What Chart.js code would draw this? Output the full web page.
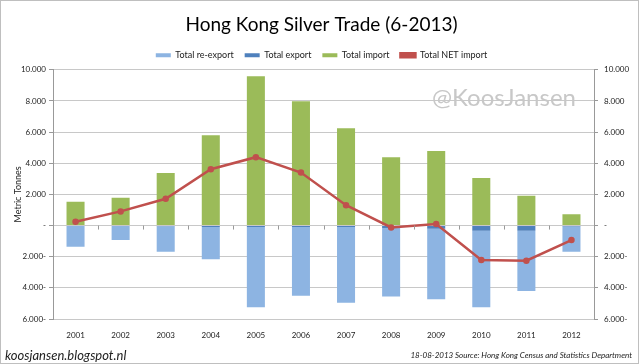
<!DOCTYPE html>
<html>
<head>
<meta charset="utf-8">
<script src="https://cdn.jsdelivr.net/npm/chart.js@4"></script>
<style>
  html, body { margin: 0; padding: 0; background: #fff; }
  #wrap { width: 640px; height: 364px; position: relative; }
</style>
</head>
<body>
<div id="wrap"><canvas id="silverChart" width="640" height="364"></canvas></div>
<script>
var years = ['2001', '2002', '2003', '2004', '2005', '2006', '2007', '2008', '2009', '2010', '2011', '2012'];
var reExport = [-1330, -900, -1630, -2070, -5140, -4400, -4850, -4410, -4530, -4910, -3870, -1620];
var totalExport = [-30, -30, -50, -100, -100, -100, -100, -150, -200, -330, -330, -60];
var totalImport = [1530, 1780, 3370, 5800, 9580, 7980, 6250, 4390, 4780, 3050, 1910, 720];
var netImport = [240, 910, 1720, 3620, 4390, 3400, 1310, -120, 100, -2210, -2260, -930];
var yTicks = [-6000, -4000, -2000, 0, 2000, 4000, 6000, 8000, 10000];

var FONT = 'Lato, "Open Sans", sans-serif';

// excel style accounting numbers: 2.000  /  -  /  2.000-
function fmtTick(v) {
  if (v === 0) return '-';
  var s = Math.abs(v).toString().replace(/\B(?=(\d{3})+(?!\d))/g, '.');
  return v < 0 ? s + '-' : s;
}

var extras = {
  id: 'extras',
  afterDraw: function (chart) {
    var c = chart.ctx;
    var xs = chart.scales.x, ys = chart.scales.y;
    var y0 = ys.getPixelForValue(0);
    c.save();
    // small category ticks on the zero line
    c.strokeStyle = '#999';
    c.lineWidth = 1;
    for (var i = 0; i < years.length - 1; i++) {
      var xm = Math.round((xs.getPixelForValue(i) + xs.getPixelForValue(i + 1)) / 2) + 0.5;
      c.beginPath();
      c.moveTo(xm, y0);
      c.lineTo(xm, y0 + 4);
      c.stroke();
    }
    // watermark
    c.fillStyle = '#c8c8c8';
    c.font = '24px ' + FONT;
    c.textAlign = 'left';
    c.textBaseline = 'middle';
    c.fillText('@KoosJansen', 432, 98);
    // footer
    c.fillStyle = '#222';
    c.font = 'italic 13px ' + FONT;
    c.textBaseline = 'alphabetic';
    c.fillText('koosjansen.blogspot.nl', 5, 360);
    c.font = 'italic 8px ' + FONT;
    c.textAlign = 'right';
    c.fillText('18-08-2013 Source: Hong Kong Census and Statistics Department', 632, 358);
    // outer frame
    c.strokeStyle = '#bfbfbf';
    c.strokeRect(0.5, 0.5, 638, 363);
    c.restore();
  }
};

var ctx = document.getElementById('silverChart').getContext('2d');

var silverChart = new Chart(ctx, {
  type: 'bar',
  data: {
    labels: years,
    datasets: [{
      label: 'Total re-export',
      data: reExport,
      backgroundColor: '#8db4e2',
      order: 2
    }, {
      label: 'Total export',
      data: totalExport,
      backgroundColor: '#4f81bd',
      order: 1
    }, {
      label: 'Total import',
      data: totalImport,
      backgroundColor: '#9bbb59',
      order: 3
    }, {
      type: 'line',
      label: 'Total NET import',
      data: netImport,
      borderColor: '#c0504d',
      backgroundColor: '#c0504d',
      borderWidth: 2.5,
      pointRadius: 2,
      pointBackgroundColor: '#c0504d',
      tension: 0,
      order: 0
    }]
  },
  options: {
    responsive: false,
    animation: false,
    layout: { padding: { left: 9, right: 6, top: 5, bottom: 22 } },
    datasets: {
      bar: { categoryPercentage: 1.0, barPercentage: 0.4 }
    },
    plugins: {
      title: {
        display: true,
        text: 'Hong Kong Silver Trade (6-2013)',
        color: '#000',
        font: { family: FONT, size: 19, weight: 'normal' },
        padding: { top: 8, bottom: 4 }
      },
      legend: {
        position: 'top',
        labels: {
          color: '#222',
          boxWidth: 15,
          boxHeight: 4,
          padding: 11,
          font: { family: FONT, size: 9 },
          sort: function (a, b) { return a.datasetIndex - b.datasetIndex; }
        }
      },
      tooltip: { enabled: false }
    },
    scales: {
      x: {
        stacked: true,
        grid: { display: false },
        border: { display: false },
        ticks: { color: '#222', font: { family: FONT, size: 8 }, padding: 4 },
        afterFit: function (s) { s.height = 23; }
      },
      y: {
        stacked: true,
        min: -6000,
        max: 10000,
        afterBuildTicks: function (s) { s.ticks = yTicks.map(function (v) { return { value: v }; }); },
        ticks: {
          color: '#222',
          font: { family: FONT, size: 8 },
          padding: 3,
          callback: function (v) { return fmtTick(v); }
        },
        grid: { color: '#c8c8c8', tickLength: 4, tickColor: '#999' },
        border: { display: true, color: '#999' },
        title: {
          display: true,
          text: 'Metric Tonnes',
          color: '#222',
          font: { family: FONT, size: 9 },
          padding: { top: 4, bottom: 4 }
        },
        afterFit: function (s) { s.width = 44; }
      },
      y2: {
        display: true,
        position: 'right',
        min: -6000,
        max: 10000,
        afterBuildTicks: function (s) { s.ticks = yTicks.map(function (v) { return { value: v }; }); },
        ticks: {
          color: '#222',
          font: { family: FONT, size: 8 },
          padding: 6,
          callback: function (v) { return fmtTick(v); }
        },
        grid: { drawOnChartArea: false, tickLength: 4, tickColor: '#999' },
        border: { display: true, color: '#999' },
        afterFit: function (s) { s.width = 40; }
      }
    }
  },
  plugins: [extras]
});
</script>
</body>
</html>
